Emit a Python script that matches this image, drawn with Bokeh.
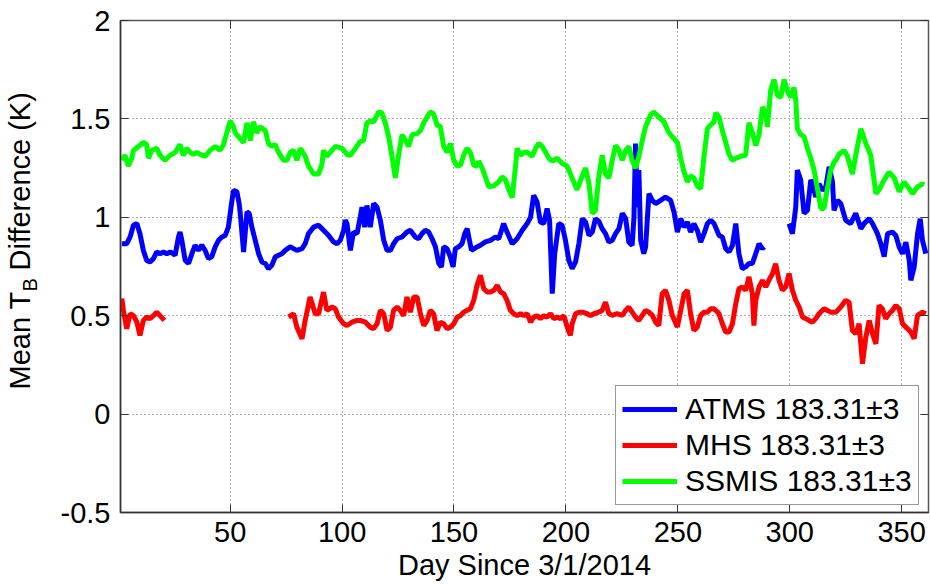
import math
from bokeh.plotting import figure
from bokeh.layouts import row
from bokeh.models import (FixedTicker, LinearAxis, Legend, LegendItem, Range1d)
from bokeh.core.properties import value
from bokeh.embed import file_html
from bokeh.resources import INLINE

nan = float("nan")

# ---------------- data ----------------
x_ticks = [50, 100, 150, 200, 250, 300, 350]
y_ticks = [-0.5, 0, 0.5, 1, 1.5, 2]
y_tick_labels = ["-0.5", "0", "0.5", "1", "1.5", "2"]
series_names = ["ATMS 183.31\u00b13", "MHS 183.31\u00b13", "SSMIS 183.31\u00b13"]
x_title = "Day Since 3/1/2014"
y_title_parts = ["Mean T", "B", "Difference (K)"]

atms_day = [1.6, 3.8, 5.3, 6.8, 8.3, 9.7, 11.2, 12.7, 14.2, 15.7, 17.2, 18.7, 20.2, 21.7, 23.2,
            24.6, 25.4, 26.9, 27.6, 28.4, 29.9, 31.4, 32.9, 34.3, 35.8, 37.3, 38.8, 40.3, 41.8,
            43.3, 44.8, 46.3, 47.8, 49.2, 50.8, 51.5, 53.0, 54.0, 54.5, 56.0, 56.7, 57.5, 58.5,
            59.7, 61.2, 62.7, 64.2, 65.7, 67.1, 68.6, 70.1, 71.6, 73.1, 74.6, 76.8, 78.3, 79.8,
            82.1, 83.5, 85.0, 87.3, 89.5, 91.7, 94.0, 96.2, 97.7, 99.2, 100.7, 101.4, 102.2,
            103.7, 105.1, 106.7, 108.1, 108.9, 110.1, 111.1, 112.6, 114.1, 115.6, 117.1, 118.6,
            120.1, 121.6, 123.0, 124.6, 126.8, 129.0, 130.5, 132.7, 134.2, 135.7, 137.2, 138.7,
            140.2, 141.7, 143.2, 144.4, 145.4, 146.9, 148.4, 149.6, 150.6, 152.1, 153.6, 154.8,
            155.9, 156.6, 157.8, 159.6, 161.8, 164.0, 166.3, 168.5, 170.0, 172.2, 173.7, 176.0,
            178.2, 180.5, 182.7, 184.2, 185.6, 187.1, 188.6, 190.1, 191.6, 192.7, 193.9, 195.0,
            196.8, 198.3, 199.8, 201.3, 202.8, 204.3, 205.8, 207.3, 208.8, 210.3, 211.8, 213.2,
            214.7, 216.2, 217.7, 219.2, 220.7, 222.2, 223.7, 225.2, 226.7, 228.1, 229.6, 230.4,
            231.1, 231.9, 232.6, 233.4, 234.8, 235.6, 237.1, 238.6, 240.1, 242.3, 244.5, 246.8,
            248.3, 249.8, 251.3, 252.8, 254.3, 255.7, 257.2, 258.7, 260.2, 261.7, 263.2, 264.7,
            266.2, 267.6, 268.4, 269.9, 271.4, 272.9, 274.4, 275.9, 277.3, 278.8, 280.3, 281.8,
            283.3, 284.8, 286.3, 287.8, 288.5, 294.0,
            299.7, 301.2, 302.7, 303.4, 304.9, 306.4, 307.9, 309.4, 310.2, 311.6, 313.1, 314.6,
            316.1, 317.6, 319.1, 319.8, 321.3, 322.8, 325.0, 327.2, 329.5, 331.8, 333.2, 335.5,
            337.0, 339.2, 340.7, 342.2, 343.7, 345.9, 347.4, 348.9, 350.4, 351.9, 353.4, 354.1,
            355.6, 357.1, 358.3, 359.3, 360.8]
atms_val = [0.866, 0.866, 0.90, 0.96, 0.968, 0.917, 0.832, 0.781, 0.773, 0.79, 0.824, 0.815, 0.824,
            0.815, 0.824, 0.815, 0.807, 0.90, 0.925, 0.883, 0.781, 0.765, 0.815, 0.858, 0.832,
            0.858, 0.832, 0.79, 0.80, 0.85, 0.883, 0.90, 0.908, 0.95, 1.086, 1.137, 1.13, 1.07,
            1.02, 0.824, 0.917, 1.027, 1.02, 0.95, 0.883, 0.815, 0.773, 0.765, 0.739, 0.756,
            0.798, 0.807, 0.815, 0.832, 0.85, 0.841, 0.832, 0.841, 0.866, 0.917, 0.95, 0.96,
            0.934, 0.908, 0.875, 0.866, 0.883, 0.934, 0.985, 0.968, 0.832, 0.925, 0.917, 1.00,
            1.052, 0.95, 1.06, 0.95, 1.07, 1.052, 0.985, 0.883, 0.832, 0.832, 0.866, 0.891, 0.90,
            0.925, 0.934, 0.90, 0.891, 0.917, 0.934, 0.925, 0.891, 0.85, 0.765, 0.748, 0.85,
            0.841, 0.798, 0.748, 0.841, 0.85, 0.866, 0.917, 0.942, 0.90, 0.832, 0.845, 0.858,
            0.875, 0.883, 0.90, 0.891, 0.968, 0.925, 0.866, 0.891, 0.934, 0.968, 1.00, 1.112,
            1.078, 0.976, 0.968, 1.044, 0.985, 0.612, 0.815, 0.968, 0.96, 0.883, 0.781, 0.739,
            0.773, 0.866, 0.993, 0.976, 0.908, 0.925, 0.993, 0.98, 0.942, 0.917, 0.874, 0.883,
            0.917, 0.942, 1.02, 0.993, 0.874, 0.857, 1.00, 1.375, 1.052, 1.24, 0.883, 0.815,
            0.849, 1.12, 1.086, 1.07, 1.086, 1.103, 1.086, 1.027, 0.925, 0.993, 0.95, 0.976,
            0.925, 0.968, 0.934, 0.874, 0.917, 0.968, 0.985, 0.968, 0.93, 0.908, 0.90, 0.84,
            0.824, 0.857, 0.968, 0.815, 0.739, 0.748, 0.765, 0.765, 0.815, 0.866, 0.84, 0.85, nan,
            0.968, 0.917, 1.052, 1.24, 1.19, 1.02, 1.035, 1.19, 1.17, 1.103, 1.17, 1.137, 1.154,
            1.256, 1.18, 1.035, 1.086, 1.07, 0.985, 0.968, 1.02, 0.942, 0.968, 0.993, 0.968,
            0.917, 0.866, 0.80, 0.917, 0.925, 0.908, 0.849, 0.815, 0.874, 0.781, 0.68, 0.747,
            0.917, 0.993, 0.883, 0.815]

mhs_day = [1.6, 2.3, 3.8, 5.3, 6.8, 8.3, 9.7, 11.2, 12.7, 14.2, 15.7, 17.2, 18.7, 20.6, 48.0,
           76.1, 78.3, 79.8, 82.1, 83.5, 85.7, 88.0, 89.5, 91.7, 93.2, 95.5, 97.0, 98.4, 100.7,
           102.2, 104.4, 106.7, 108.1, 110.4, 112.6, 114.1, 115.6, 117.1, 118.6, 120.1, 121.6,
           123.0, 124.6, 126.0, 127.5, 129.0, 130.5, 132.0, 133.5, 135.0, 136.5, 138.0, 139.4,
           140.9, 142.4, 143.9, 145.4, 146.9, 148.4, 149.9, 151.4, 152.9, 154.3, 155.8, 157.3,
           158.8, 160.3, 161.8, 163.3, 164.8, 166.3, 167.8, 169.3, 170.8, 172.2, 173.7, 175.2,
           176.7, 178.2, 179.7, 181.2, 182.7, 184.2, 185.6, 187.1, 188.6, 190.1, 191.6, 193.1,
           194.6, 196.1, 197.6, 199.1, 200.6, 202.0, 202.8, 204.3, 205.8, 207.3, 209.5, 211.0,
           212.5, 214.0, 216.2, 217.7, 219.2, 220.7, 222.9, 225.2, 226.7, 228.1, 229.6, 231.1,
           232.6, 234.1, 235.6, 237.1, 238.6, 240.1, 241.5, 243.0, 244.5, 246.0, 247.5, 249.8,
           251.3, 252.8, 254.3, 255.7, 257.2, 258.7, 260.2, 261.7, 263.2, 264.7, 266.2, 267.6,
           268.4, 269.9, 271.4, 272.9, 274.4, 275.9, 277.3, 278.8, 280.3, 281.8, 283.3, 284.0,
           284.8, 286.3, 287.8, 289.3, 290.7, 292.3, 293.7, 295.2, 296.7, 298.2, 299.7, 301.2,
           302.7, 304.2, 305.7, 307.2, 308.6, 310.2, 311.6, 313.1, 315.3, 316.8, 318.3, 320.6,
           322.8, 325.0, 326.5, 328.0, 329.5, 331.0, 332.5, 334.0, 335.5, 337.0, 338.5, 339.9,
           341.4, 342.9, 344.4, 345.9, 347.4, 348.9, 350.4, 351.9, 354.1, 355.6, 357.1, 359.3,
           360.8]
mhs_val = [0.587, 0.527, 0.434, 0.51, 0.50, 0.467, 0.40, 0.476, 0.493, 0.485, 0.50, 0.518, 0.50,
           0.476, nan,
           0.493, 0.51, 0.442, 0.383, 0.476, 0.595, 0.51, 0.51, 0.62, 0.527, 0.544, 0.535, 0.493,
           0.459, 0.45, 0.467, 0.476, 0.476, 0.467, 0.442, 0.434, 0.459, 0.527, 0.51, 0.425,
           0.442, 0.527, 0.544, 0.527, 0.50, 0.595, 0.518, 0.595, 0.595, 0.51, 0.45, 0.476,
           0.527, 0.51, 0.425, 0.467, 0.459, 0.434, 0.442, 0.459, 0.493, 0.50, 0.518, 0.527,
           0.535, 0.578, 0.654, 0.705, 0.637, 0.62, 0.62, 0.629, 0.654, 0.62, 0.612, 0.578,
           0.527, 0.51, 0.50, 0.51, 0.50, 0.51, 0.467, 0.493, 0.50, 0.485, 0.50, 0.493, 0.51,
           0.485, 0.493, 0.485, 0.50, 0.442, 0.40, 0.459, 0.51, 0.518, 0.518, 0.51, 0.50, 0.51,
           0.515, 0.527, 0.569, 0.51, 0.502, 0.51, 0.502, 0.527, 0.544, 0.518, 0.493, 0.476,
           0.502, 0.527, 0.518, 0.502, 0.467, 0.45, 0.612, 0.629, 0.578, 0.502, 0.442, 0.527,
           0.612, 0.629, 0.51, 0.425, 0.442, 0.502, 0.518, 0.518, 0.535, 0.535, 0.52, 0.51,
           0.459, 0.417, 0.417, 0.459, 0.561, 0.637, 0.646, 0.629, 0.697, 0.612, 0.45, 0.578,
           0.646, 0.68, 0.646, 0.68, 0.714, 0.764, 0.68, 0.629, 0.646, 0.714, 0.629, 0.578,
           0.544, 0.493, 0.485, 0.476, 0.467, 0.485, 0.51, 0.535, 0.527, 0.518, 0.518, 0.544,
           0.578, 0.569, 0.425, 0.408, 0.459, 0.256, 0.391, 0.476, 0.408, 0.357, 0.552, 0.535,
           0.485, 0.51, 0.527, 0.552, 0.535, 0.459, 0.442, 0.417, 0.383, 0.502, 0.518, 0.51]

ssmis_day = [1.6, 3.0, 4.5, 6.0, 6.8, 9.0, 11.2, 12.7, 13.5, 15.0, 17.2, 18.7, 20.9, 23.2, 25.4,
             27.6, 29.1, 30.6, 32.1, 33.6, 35.1, 36.6, 38.8, 41.0, 43.3, 45.5, 47.0, 48.5, 50.0,
             51.5, 52.2, 54.5, 56.0, 57.5, 59.0, 60.4, 61.9, 63.4, 65.7, 67.1, 68.6, 70.1, 71.6,
             73.8, 75.4, 76.8, 78.3, 79.8, 81.3, 83.5, 85.0, 87.3, 89.5, 91.0, 91.7, 93.2, 94.7,
             97.0, 100.0, 102.2, 103.7, 105.9, 108.1, 109.6, 111.1, 112.6, 114.1, 116.3, 117.8,
             119.3, 120.8, 122.3, 123.8, 125.3, 126.8, 128.3, 129.7, 131.3, 133.5, 135.0, 136.5,
             138.0, 139.4, 140.9, 142.4, 143.9, 145.4, 146.9, 148.4, 149.9, 151.4, 152.9, 154.3,
             155.8, 157.3, 158.8, 160.3, 161.0, 162.6, 164.0, 165.5, 167.8, 170.0, 171.5, 173.0,
             174.5, 176.0, 177.5, 178.2, 179.7, 181.2, 182.7, 184.9, 186.4, 187.9, 189.4, 190.9,
             192.4, 193.9, 196.1, 198.3, 200.6, 202.0, 203.5, 205.0, 207.3, 208.8, 210.3, 211.8,
             213.2, 214.7, 216.2, 217.7, 219.2, 220.7, 222.2, 223.7, 225.2, 226.7, 228.1, 229.6,
             231.1, 232.6, 234.1, 235.6, 237.8, 239.3, 241.5, 243.8, 246.0, 248.3, 249.8, 251.3,
             252.8, 254.3, 255.7, 257.2, 258.7, 260.2, 261.7, 263.2, 264.7, 266.2, 266.9, 268.4,
             269.9, 271.4, 272.9, 274.4, 275.9, 278.1, 280.3, 281.8, 283.3, 284.8, 286.3, 287.8,
             289.3, 290.0, 291.5, 293.0, 294.5, 296.0, 297.5, 299.0, 300.4, 301.9, 302.7, 303.4,
             304.9, 306.4, 307.9, 309.4, 310.9, 312.4, 313.9, 315.3, 316.8, 318.3, 319.8, 320.6,
             322.0, 324.3, 325.8, 328.0, 329.5, 331.8, 334.0, 336.2, 338.5, 339.9, 342.2, 344.4,
             346.7, 348.9, 351.1, 353.4, 354.9, 357.1, 359.3, 360.1]
ssmis_val = [1.29, 1.315, 1.26, 1.30, 1.34, 1.36, 1.38, 1.37, 1.30, 1.34, 1.35, 1.315, 1.29, 1.315,
             1.33, 1.37, 1.315, 1.35, 1.33, 1.32, 1.33, 1.32, 1.31, 1.34, 1.36, 1.34, 1.37, 1.43,
             1.49, 1.46, 1.43, 1.40, 1.38, 1.48, 1.39, 1.485, 1.43, 1.46, 1.44, 1.375, 1.36, 1.37,
             1.33, 1.29, 1.29, 1.33, 1.34, 1.29, 1.35, 1.31, 1.26, 1.22, 1.22, 1.27, 1.34, 1.31,
             1.33, 1.36, 1.35, 1.32, 1.315, 1.35, 1.385, 1.39, 1.48, 1.49, 1.485, 1.535, 1.53,
             1.48, 1.41, 1.31, 1.20, 1.32, 1.42, 1.39, 1.36, 1.42, 1.425, 1.44, 1.48, 1.51, 1.535,
             1.525, 1.47, 1.46, 1.36, 1.33, 1.375, 1.29, 1.26, 1.265, 1.315, 1.35, 1.33, 1.265,
             1.26, 1.285, 1.25, 1.205, 1.155, 1.16, 1.18, 1.205, 1.19, 1.14, 1.10, 1.26, 1.35,
             1.315, 1.33, 1.33, 1.31, 1.35, 1.375, 1.36, 1.33, 1.30, 1.285, 1.30, 1.275, 1.26,
             1.22, 1.18, 1.14, 1.21, 1.25, 1.17, 1.02, 1.035, 1.205, 1.315, 1.22, 1.20, 1.29,
             1.365, 1.34, 1.29, 1.34, 1.36, 1.29, 1.25, 1.31, 1.39, 1.46, 1.52, 1.535, 1.51, 1.485,
             1.43, 1.40, 1.38, 1.30, 1.23, 1.18, 1.21, 1.20, 1.16, 1.145, 1.31, 1.45, 1.47, 1.485,
             1.53, 1.51, 1.44, 1.38, 1.32, 1.29, 1.30, 1.31, 1.315, 1.48, 1.43, 1.365, 1.42, 1.56,
             1.53, 1.46, 1.645, 1.70, 1.62, 1.61, 1.70, 1.64, 1.61, 1.66, 1.595, 1.45, 1.42, 1.41,
             1.35, 1.30, 1.24, 1.145, 1.045, 1.045, 1.145, 1.24, 1.28, 1.29, 1.32, 1.34, 1.31,
             1.22, 1.315, 1.45, 1.375, 1.315, 1.12, 1.14, 1.19, 1.23, 1.20, 1.13, 1.18, 1.145,
             1.12, 1.155, 1.17, 1.165]

colors = ["#0000FF", "#FF0000", "#00FF00"]
FONT = "Liberation Sans"

# ---------------- narrow strip holding the y-axis title (with subscript) ----------------
lab = figure(width=40, height=585, output_backend="svg", toolbar_location=None,
             x_range=Range1d(0, 40), y_range=Range1d(0, 585),
             x_axis_type=None, y_axis_type=None,
             min_border_left=0, min_border_right=0, min_border_top=0, min_border_bottom=0)
lab.frame_align = False
lab.outline_line_color = None
lab.grid.visible = False
lab.text(x=[19], y=[196], text=[y_title_parts[0]], angle=math.pi / 2,
         text_font=value(FONT), text_font_size=value("29px"), text_color="black",
         text_align="left", text_baseline="middle")
lab.text(x=[29], y=[294], text=[y_title_parts[1]], angle=math.pi / 2,
         text_font=value(FONT), text_font_size=value("20px"), text_color="black",
         text_align="left", text_baseline="middle")
lab.text(x=[19], y=[315], text=[y_title_parts[2]], angle=math.pi / 2,
         text_font=value(FONT), text_font_size=value("29px"), text_color="black",
         text_align="left", text_baseline="middle")

# ---------------- main chart ----------------
p = figure(width=890, height=585, output_backend="svg", toolbar_location=None,
           x_range=Range1d(1, 362), y_range=Range1d(-0.5, 2),
           min_border_left=80, min_border_right=2, min_border_top=20, min_border_bottom=73)
p.frame_align = False
p.background_fill_color = "white"
p.border_fill_color = "white"
p.outline_line_color = "#555555"
p.outline_line_width = 1.5

r_atms = p.line(atms_day, atms_val, line_color=colors[0], line_width=5)
r_mhs = p.line(mhs_day, mhs_val, line_color=colors[1], line_width=5)
r_ssmis = p.line(ssmis_day, ssmis_val, line_color=colors[2], line_width=5)

xa = p.xaxis[0]
ya = p.yaxis[0]
xa.ticker = FixedTicker(ticks=x_ticks)
ya.ticker = FixedTicker(ticks=y_ticks)
ya.major_label_overrides = {t: s for t, s in zip(y_ticks, y_tick_labels)}
for ax in (xa, ya):
    ax.major_tick_in = 8
    ax.major_tick_out = 0
    ax.minor_tick_line_color = None
    ax.major_tick_line_color = "#333333"
    ax.axis_line_color = "#333333"
    ax.axis_line_width = 1.5
    ax.major_label_text_font = FONT
    ax.major_label_text_font_size = "29px"
    ax.major_label_text_color = "black"
xa.major_label_standoff = 9
ya.major_label_standoff = 10
xa.axis_label = x_title
xa.axis_label_text_font = FONT
xa.axis_label_text_font_size = "29px"
xa.axis_label_text_font_style = "normal"
xa.axis_label_text_color = "black"
xa.axis_label_standoff = 4

# inward tick marks on the top and right edges (box style), labels not drawn
for place, ticks in (("above", x_ticks), ("right", y_ticks)):
    ax2 = LinearAxis(ticker=FixedTicker(ticks=ticks), major_label_text_font_size="1px",
                     major_label_text_color=None, major_tick_in=8, major_tick_out=0,
                     axis_line_color=None, minor_tick_line_color=None,
                     major_label_standoff=0, major_tick_line_color="#333333")
    p.add_layout(ax2, place)

for g in (p.xgrid[0], p.ygrid[0]):
    g.grid_line_color = "#333333"
    g.grid_line_alpha = 0.8
    g.grid_line_dash = "1 3"
    g.grid_line_width = 1
p.xgrid[0].ticker = FixedTicker(ticks=x_ticks)
p.ygrid[0].ticker = FixedTicker(ticks=y_ticks)

legend = Legend(items=[LegendItem(label=series_names[0], renderers=[r_atms]),
                       LegendItem(label=series_names[1], renderers=[r_mhs]),
                       LegendItem(label=series_names[2], renderers=[r_ssmis])],
                location=(495, 7))
legend.label_text_font = FONT
legend.label_text_font_size = "30px"
legend.label_text_color = "black"
legend.glyph_width = 55
legend.label_standoff = 8
legend.padding = 6
legend.spacing = 2
legend.margin = 0
legend.border_line_color = "#333333"
legend.border_line_width = 1.2
legend.background_fill_color = "white"
legend.background_fill_alpha = 1.0
p.add_layout(legend, "center")

layout = row(lab, p, spacing=0)
open("out.html", "w").write(file_html(layout, INLINE))
